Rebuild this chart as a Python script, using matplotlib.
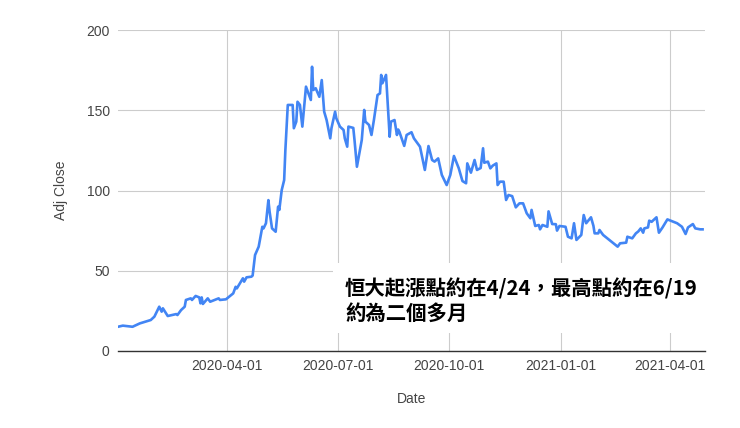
import matplotlib
matplotlib.use("Agg")
import matplotlib.pyplot as plt
import matplotlib.dates as mdates
from matplotlib.patches import Rectangle
import numpy as np

dates = [
    "2020-01-02", "2020-01-06", "2020-01-14", "2020-01-20", "2020-01-29", "2020-02-01",
    "2020-02-05", "2020-02-07", "2020-02-08", "2020-02-12", "2020-02-19", "2020-02-20",
    "2020-02-23", "2020-02-26", "2020-02-27", "2020-03-02", "2020-03-03", "2020-03-06",
    "2020-03-09", "2020-03-10", "2020-03-11", "2020-03-12", "2020-03-16", "2020-03-18",
    "2020-03-25", "2020-03-26", "2020-03-31", "2020-04-06", "2020-04-08", "2020-04-09",
    "2020-04-14", "2020-04-15", "2020-04-17", "2020-04-21", "2020-04-22", "2020-04-24",
    "2020-04-27", "2020-04-30", "2020-05-01", "2020-05-03", "2020-05-05", "2020-05-06",
    "2020-05-08", "2020-05-11", "2020-05-13", "2020-05-14", "2020-05-16", "2020-05-18",
    "2020-05-19", "2020-05-21", "2020-05-25", "2020-05-26", "2020-05-28", "2020-05-29",
    "2020-05-31", "2020-06-02", "2020-06-05", "2020-06-07", "2020-06-09", "2020-06-10",
    "2020-06-11", "2020-06-13", "2020-06-16", "2020-06-18", "2020-06-20", "2020-06-22",
    "2020-06-25", "2020-06-26", "2020-06-29", "2020-06-30", "2020-07-03", "2020-07-06",
    "2020-07-07", "2020-07-09", "2020-07-10", "2020-07-14", "2020-07-15", "2020-07-17",
    "2020-07-20", "2020-07-21", "2020-07-23", "2020-07-24", "2020-07-27", "2020-07-29",
    "2020-07-31", "2020-08-03", "2020-08-05", "2020-08-06", "2020-08-07", "2020-08-10",
    "2020-08-13", "2020-08-14", "2020-08-17", "2020-08-19", "2020-08-20", "2020-08-21",
    "2020-08-25", "2020-08-27", "2020-08-31", "2020-09-02", "2020-09-07", "2020-09-11",
    "2020-09-14", "2020-09-17", "2020-09-19", "2020-09-22", "2020-09-25", "2020-09-29",
    "2020-10-02", "2020-10-05", "2020-10-09", "2020-10-12", "2020-10-15", "2020-10-16",
    "2020-10-19", "2020-10-22", "2020-10-24", "2020-10-27", "2020-10-29", "2020-10-30",
    "2020-11-02", "2020-11-04", "2020-11-06", "2020-11-09", "2020-11-10", "2020-11-12",
    "2020-11-15", "2020-11-17", "2020-11-19", "2020-11-22", "2020-11-25", "2020-11-28",
    "2020-12-01", "2020-12-04", "2020-12-07", "2020-12-08", "2020-12-11", "2020-12-14",
    "2020-12-15", "2020-12-17", "2020-12-21", "2020-12-22", "2020-12-25", "2020-12-28",
    "2020-12-29", "2020-12-31", "2021-01-05", "2021-01-07", "2021-01-10", "2021-01-12",
    "2021-01-14", "2021-01-18", "2021-01-20", "2021-01-22", "2021-01-26", "2021-01-28",
    "2021-01-29", "2021-02-01", "2021-02-02", "2021-02-05", "2021-02-17", "2021-02-19",
    "2021-02-24", "2021-02-25", "2021-03-01", "2021-03-04", "2021-03-06", "2021-03-08",
    "2021-03-10", "2021-03-11", "2021-03-14", "2021-03-15", "2021-03-17", "2021-03-21",
    "2021-03-23", "2021-03-26", "2021-03-30", "2021-04-07", "2021-04-11", "2021-04-14",
    "2021-04-16", "2021-04-20", "2021-04-22", "2021-04-26", "2021-04-28",
]
adj_close = [
    15.1, 15.8, 15.1, 17.2, 19.3, 21.4,
    27.6, 24.5, 26.6, 21.8, 23.0, 22.4,
    25.5, 27.6, 31.8, 32.8, 31.8, 34.3,
    33.4, 29.7, 33.4, 29.3, 32.8, 30.7,
    32.8, 31.8, 32.2, 35.9, 40.0, 39.0,
    45.3, 43.2, 45.9, 46.3, 47.0, 59.8,
    65.0, 77.4, 76.4, 79.6, 94.0, 86.8,
    76.4, 74.3, 89.9, 87.9, 100.3, 106.5,
    125.2, 153.3, 153.3, 138.8, 142.9, 155.3,
    153.3, 139.8, 164.7, 160.5, 156.4, 177.1,
    162.6, 163.7, 158.4, 168.8, 149.1, 143.9,
    132.5, 138.8, 149.1, 145.0, 139.8, 137.7,
    132.5, 127.3, 139.8, 139.0, 131.5, 114.8,
    127.3, 131.5, 150.2, 142.9, 140.8, 134.6,
    143.9, 159.5, 160.5, 172.0, 166.8, 172.0,
    133.5, 142.9, 143.9, 134.6, 138.0, 136.6,
    127.8, 134.6, 136.3, 132.5, 127.3, 112.8,
    127.7, 119.0, 118.0, 120.0, 109.7, 103.4,
    109.7, 121.5, 113.8, 105.9, 104.5, 116.9,
    111.1, 119.0, 112.8, 114.0, 126.3, 117.3,
    118.0, 113.8, 115.5, 116.9, 103.4, 105.5,
    105.5, 94.1, 97.2, 96.5, 89.5, 92.0,
    92.0, 85.8, 82.7, 87.9, 77.9, 78.5,
    75.8, 78.5, 77.4, 87.0, 79.1, 79.0,
    75.0, 77.9, 77.4, 71.2, 70.2, 79.6,
    69.2, 72.3, 84.7, 79.6, 83.3, 78.0,
    73.3, 73.3, 75.4, 72.3, 65.0, 67.1,
    67.5, 71.2, 70.2, 73.3, 74.5, 76.4,
    73.7, 76.4, 77.0, 81.2, 80.5, 83.3,
    73.7, 77.0, 82.0, 79.6, 77.4, 72.9,
    77.0, 79.1, 76.4, 75.8, 75.8,
]
y_ticks = [0, 50, 100, 150, 200]
x_ticks = ["2020-04-01", "2020-07-01", "2020-10-01", "2021-01-01", "2021-04-01"]
note_lines = ["恒大起漲點約在4/24，最高點約在6/19", "約為二個多月"]

plt.rcParams['font.family'] = ['Liberation Sans', 'DejaVu Sans']

x = np.array(dates, dtype='datetime64[D]')
fig = plt.figure(figsize=(7.4, 4.28), dpi=100)
ax = fig.add_axes([118 / 740, 1 - 351 / 428, 587 / 740, 321 / 428])

ax.plot(x, adj_close, color='#4285F4', lw=1.9, zorder=3, solid_joinstyle='round')

ax.set_xlim(np.datetime64("2020-01-02"), np.datetime64("2021-04-30"))
ax.set_ylim(0, 200)
ax.set_yticks(y_ticks)
ax.set_xticks(np.array(x_ticks, dtype='datetime64[D]'))
ax.xaxis.set_major_formatter(mdates.DateFormatter('%Y-%m-%d'))
ax.grid(True, color='#cccccc', lw=0.8)
ax.tick_params(length=0, labelsize=10, labelcolor='#444444', pad=6)
for side in ('top', 'right', 'left'):
    ax.spines[side].set_visible(False)
ax.spines['bottom'].set_color('#333333')
ax.spines['bottom'].set_linewidth(1.0)
ax.spines['bottom'].set_zorder(4)

ax.set_xlabel("Date", fontsize=10, color='#444444')
ax.set_ylabel("Adj Close", fontsize=10, color='#444444')
ax.xaxis.set_label_coords(0.5, -0.128)
ax.yaxis.set_label_coords(-0.085, 0.5)

# white box with the note, drawn over the plot
fig.patches.append(Rectangle((333 / 740, 1 - 333 / 428), 380 / 740, 70 / 428,
                             transform=fig.transFigure, facecolor='white',
                             edgecolor='none', zorder=2))
cjk = ['Noto Sans CJK TC', 'DejaVu Sans']
fig.text(345 / 740, 1 - 288.5 / 428, note_lines[0], family=cjk, fontsize=14.7,
         fontweight='bold', va='center', ha='left', zorder=5)
fig.text(345 / 740, 1 - 313.5 / 428, note_lines[1], family=cjk, fontsize=14.7,
         fontweight='bold', va='center', ha='left', zorder=5)

plt.savefig("out.png", dpi=100)
